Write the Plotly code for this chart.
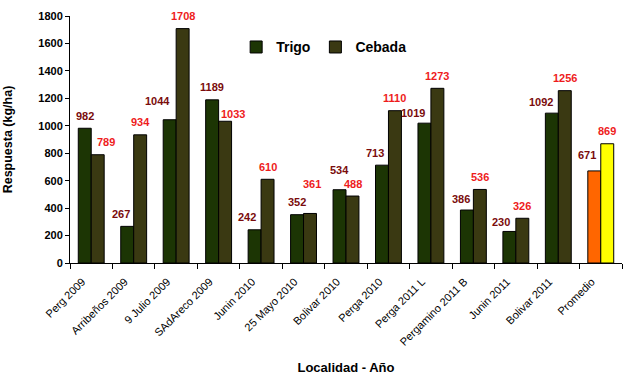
import plotly.graph_objects as go

localidades = ["Perg 2009", "Arribeños 2009", "9 Julio 2009", "SAdAreco 2009", "Junin 2010",
               "25 Mayo 2010", "Bolivar 2010", "Perga 2010", "Perga 2011 L", "Pergamino 2011 B",
               "Junin 2011", "Bolivar 2011", "Promedio"]
trigo = [982, 267, 1044, 1189, 242, 352, 534, 713, 1019, 386, 230, 1092, 671]
cebada = [789, 934, 1708, 1033, 610, 361, 488, 1110, 1273, 536, 326, 1256, 869]

# styling
TRIGO_COL = "#1c3504"
CEBADA_COL = "#3a3912"
trigo_colors = [TRIGO_COL] * (len(localidades) - 1) + ["#ff6600"]
cebada_colors = [CEBADA_COL] * (len(localidades) - 1) + ["#ffff00"]
FONT = "Liberation Sans, Arial, sans-serif"

# label nudges in pixels (style only)
trigo_dx = [0, -6, -12, 0, -8, 0, 0, -7, -11, -6, -8, -11, -7]
trigo_dy = [0, 0, 6, 0, 0, 0, 7, 0, -2, -1.5, -3.5, -1, 3]
cebada_dx = [8, 0, 0, 8, 0, 2, 0, 0, 0, 0, 0, 0, 0]
cebada_dy = [0, 0, 0, -5.5, 0, 16.5, 0, 0, 0, 0, 0, 0, 0]

fig = go.Figure()
fig.add_trace(go.Bar(name="Trigo", x=localidades, y=trigo,
                     marker=dict(color=trigo_colors, line=dict(color="black", width=1))))
fig.add_trace(go.Bar(name="Cebada", x=localidades, y=cebada,
                     marker=dict(color=cebada_colors, line=dict(color="black", width=1))))

annotations = []
for i, cat in enumerate(localidades):
    annotations.append(dict(x=cat, y=trigo[i], text=str(trigo[i]), showarrow=False,
                            xref="x", yref="y", xanchor="center", yanchor="middle",
                            xshift=-6.5 + trigo_dx[i], yshift=12.5 + trigo_dy[i],
                            font=dict(family=FONT, size=11, color="#7a0c0c", weight="bold")))
    annotations.append(dict(x=cat, y=cebada[i], text=str(cebada[i]), showarrow=False,
                            xref="x", yref="y", xanchor="center", yanchor="middle",
                            xshift=6.5 + cebada_dx[i], yshift=12.5 + cebada_dy[i],
                            font=dict(family=FONT, size=11, color="#ee1c1c", weight="bold")))

fig.update_layout(
    width=626, height=384,
    margin=dict(l=69.5, r=4, t=16, b=120.7),
    paper_bgcolor="white", plot_bgcolor="white",
    barmode="group", bargap=0.39, bargroupgap=0,
    font=dict(family=FONT, color="black"),
    annotations=annotations,
    legend=dict(orientation="h", x=0.301, y=0.873, xanchor="left", yanchor="middle",
                font=dict(family=FONT, size=14, weight="bold"), bgcolor="rgba(0,0,0,0)",
                traceorder="normal"),
    xaxis=dict(showline=True, linecolor="black", linewidth=1, ticks="outside", ticklen=5,
               tickcolor="black", tickson="boundaries", tickangle=-45,
               ticklabelshift=-9, ticklabelstandoff=7,
               tickfont=dict(family=FONT, size=11, color="black"),
               title=dict(text="Localidad - Año", font=dict(family=FONT, size=13, weight="bold"),
                          standoff=16)),
    yaxis=dict(range=[0, 1800], dtick=200, showline=True, linecolor="black", linewidth=1,
               ticks="outside", ticklen=4, tickcolor="black", showgrid=False, zeroline=False,
               tickfont=dict(family=FONT, size=11, color="black", weight="bold"),
               title=dict(text="Respuesta (kg/ha)", font=dict(family=FONT, size=12.5, weight="bold"),
                          standoff=22)),
)

fig.write_html("out.html")
